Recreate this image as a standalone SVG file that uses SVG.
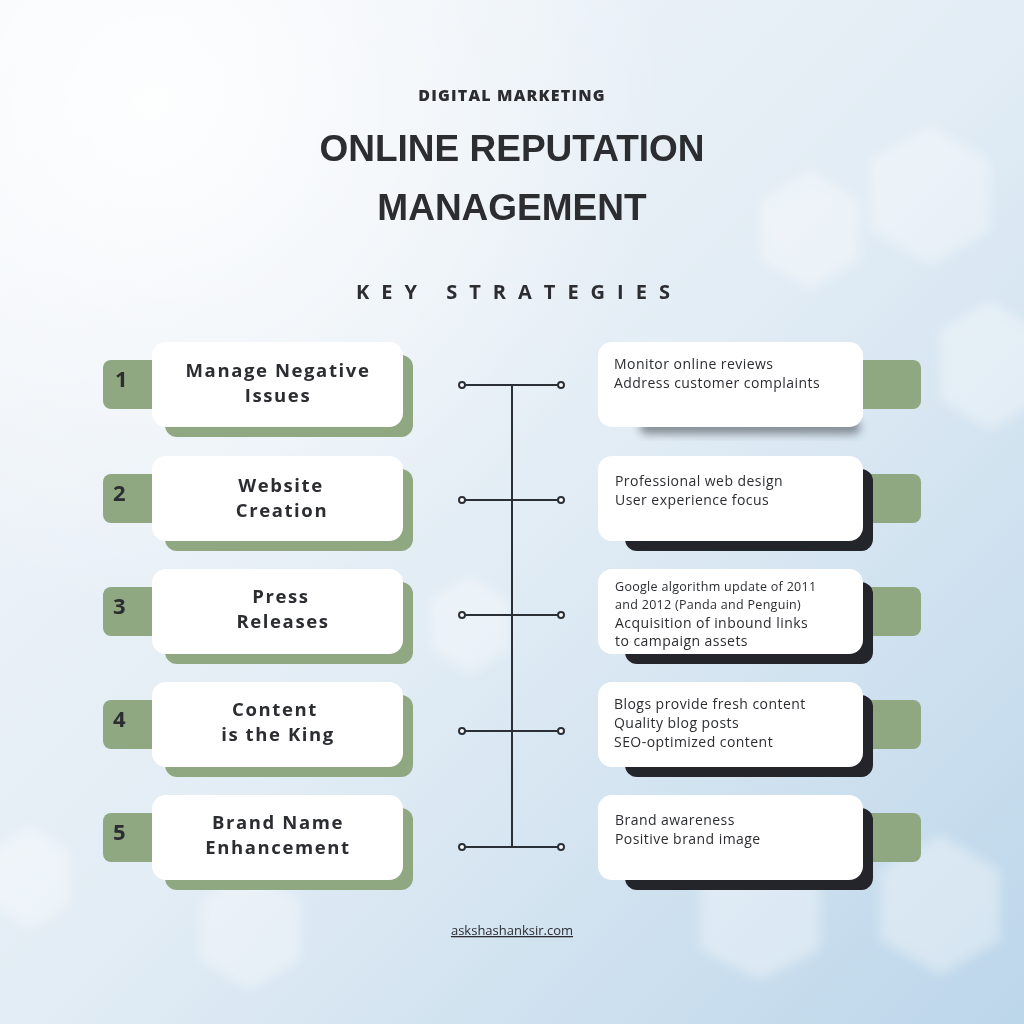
<svg xmlns="http://www.w3.org/2000/svg" width="1024" height="1024" viewBox="0 0 1024 1024">
<defs>
<linearGradient id="bg" x1="0" y1="0" x2="1" y2="1">
<stop offset="0" stop-color="#f3f6fa"/>
<stop offset="0.5" stop-color="#e3edf5"/>
<stop offset="1" stop-color="#bcd6ea"/>
</linearGradient>
<radialGradient id="glow" cx="0.15" cy="0.1" r="0.5">
<stop offset="0" stop-color="#ffffff" stop-opacity="0.9"/>
<stop offset="1" stop-color="#ffffff" stop-opacity="0"/>
</radialGradient>
<filter id="blur" x="-20%" y="-20%" width="140%" height="140%"><feGaussianBlur stdDeviation="6"/></filter>
<filter id="sblur" x="-10%" y="-50%" width="120%" height="200%"><feGaussianBlur stdDeviation="4"/></filter>
<style>
.tab{fill:#8fa882}
.gsh{fill:#8fa882}
.dsh{fill:#23252a}
.card{fill:#ffffff}
.num{font-family:"Open Sans","Inter",sans-serif;font-weight:700;font-size:22px;fill:#2b2d31}
.lbl{font-family:"Open Sans","Inter",sans-serif;font-weight:700;font-size:18.5px;fill:#2b2d31;text-anchor:middle;letter-spacing:1.6px}
.det{font-family:"Open Sans","Inter",sans-serif;font-size:14px;fill:#2b2d31;letter-spacing:0.45px}
.det.sm{font-size:12.5px;letter-spacing:0.3px}
.conn line{stroke:#2b2f36;stroke-width:2}
.conn circle{fill:#ffffff;stroke:#2b2f36;stroke-width:2}
.hex{fill:#ffffff;opacity:0.35}
</style>
</defs>
<rect width="1024" height="1024" fill="url(#bg)"/>
<rect width="1024" height="1024" fill="url(#glow)"/>
<g filter="url(#blur)">
<polygon class="hex" points="870,160 930,125 990,160 990,230 930,265 870,230"/>
<polygon class="hex" points="760,200 810,170 860,200 860,260 810,290 760,260"/>
<polygon class="hex" points="940,330 990,300 1040,330 1040,400 990,430 940,400"/>
<polygon class="hex" points="-10,850 30,825 70,850 70,905 30,930 -10,905"/>
<polygon class="hex" points="880,870 940,835 1000,870 1000,940 940,975 880,940"/>
<polygon class="hex" points="430,600 470,575 510,600 510,650 470,675 430,650"/>
<polygon class="hex" points="700,880 760,850 820,880 820,950 760,980 700,950"/>
<polygon class="hex" points="200,900 250,870 300,900 300,960 250,990 200,960"/>
</g>
<text x="512" y="101" text-anchor="middle" font-family="'Open Sans','Inter',sans-serif" font-weight="800" font-size="16" letter-spacing="1.2" fill="#2b2d31">DIGITAL MARKETING</text>
<text x="512" y="161" text-anchor="middle" font-family="'Liberation Sans',Arial,sans-serif" font-weight="700" font-size="37" fill="#2b2d31">ONLINE REPUTATION</text>
<text x="512" y="220" text-anchor="middle" font-family="'Liberation Sans',Arial,sans-serif" font-weight="700" font-size="37" fill="#2b2d31">MANAGEMENT</text>
<text x="519" y="299" text-anchor="middle" font-family="'Open Sans','Inter',sans-serif" font-weight="700" font-size="20" letter-spacing="12" fill="#2b2d31">KEY STRATEGIES</text>

<g class="conn" id="connectors">
<line x1="512" y1="385" x2="512" y2="847"/>
<line x1="462" y1="385" x2="561" y2="385"/>
<line x1="462" y1="500" x2="561" y2="500"/>
<line x1="462" y1="615" x2="561" y2="615"/>
<line x1="462" y1="731" x2="561" y2="731"/>
<line x1="462" y1="847" x2="561" y2="847"/>
<circle cx="462" cy="385" r="3"/><circle cx="561" cy="385" r="3"/>
<circle cx="462" cy="500" r="3"/><circle cx="561" cy="500" r="3"/>
<circle cx="462" cy="615" r="3"/><circle cx="561" cy="615" r="3"/>
<circle cx="462" cy="731" r="3"/><circle cx="561" cy="731" r="3"/>
<circle cx="462" cy="847" r="3"/><circle cx="561" cy="847" r="3"/>
</g>

<g id="node-1">
<rect class="tab" x="103" y="360" width="62" height="49" rx="8"/>
<rect class="gsh" x="165" y="355" width="248" height="82" rx="12"/>
<rect class="card" x="152" y="342" width="251" height="85" rx="14"/>
<text class="num" x="115" y="387">1</text>
<text class="lbl" x="278" y="377">Manage Negative</text>
<text class="lbl" x="278" y="402">Issues</text>
</g>
<g id="node-2">
<rect class="tab" x="103" y="474" width="62" height="49" rx="8"/>
<rect class="gsh" x="165" y="469" width="248" height="82" rx="12"/>
<rect class="card" x="152" y="456" width="251" height="85" rx="14"/>
<text class="num" x="113" y="501">2</text>
<text class="lbl" x="281" y="492">Website</text>
<text class="lbl" x="282" y="517">Creation</text>
</g>
<g id="node-3">
<rect class="tab" x="103" y="587" width="62" height="49" rx="8"/>
<rect class="gsh" x="165" y="582" width="248" height="82" rx="12"/>
<rect class="card" x="152" y="569" width="251" height="85" rx="14"/>
<text class="num" x="113" y="614">3</text>
<text class="lbl" x="281" y="603">Press</text>
<text class="lbl" x="283" y="628">Releases</text>
</g>
<g id="node-4">
<rect class="tab" x="103" y="700" width="62" height="49" rx="8"/>
<rect class="gsh" x="165" y="695" width="248" height="82" rx="12"/>
<rect class="card" x="152" y="682" width="251" height="85" rx="14"/>
<text class="num" x="113" y="727">4</text>
<text class="lbl" x="275" y="716">Content</text>
<text class="lbl" x="278" y="741">is the King</text>
</g>
<g id="node-5">
<rect class="tab" x="103" y="813" width="62" height="49" rx="8"/>
<rect class="gsh" x="165" y="808" width="248" height="82" rx="12"/>
<rect class="card" x="152" y="795" width="251" height="85" rx="14"/>
<text class="num" x="113" y="840">5</text>
<text class="lbl" x="278" y="829">Brand Name</text>
<text class="lbl" x="278" y="854">Enhancement</text>
</g>

<g id="detail-1">
<rect class="tab" x="850" y="360" width="71" height="49" rx="8"/>
<rect x="640" y="420" width="220" height="14" rx="6" fill="#3a3d44" opacity="0.55" filter="url(#sblur)"/>
<rect class="card" x="598" y="342" width="265" height="85" rx="14"/>
<text class="det" x="614" y="369">Monitor online reviews</text>
<text class="det" x="614" y="388">Address customer complaints</text>
</g>
<g id="detail-2">
<rect class="tab" x="850" y="474" width="71" height="49" rx="8"/>
<rect class="dsh" x="625" y="469" width="248" height="82" rx="12"/>
<rect class="card" x="598" y="456" width="265" height="85" rx="14"/>
<text class="det" x="615" y="486">Professional web design</text>
<text class="det" x="615" y="505">User experience focus</text>
</g>
<g id="detail-3">
<rect class="tab" x="850" y="587" width="71" height="49" rx="8"/>
<rect class="dsh" x="625" y="582" width="248" height="82" rx="12"/>
<rect class="card" x="598" y="569" width="265" height="85" rx="14"/>
<text class="det sm" x="615" y="591">Google algorithm update of 2011</text>
<text class="det sm" x="615" y="609">and 2012 (Panda and Penguin)</text>
<text class="det" x="615" y="628">Acquisition of inbound links</text>
<text class="det" x="615" y="646">to campaign assets</text>
</g>
<g id="detail-4">
<rect class="tab" x="850" y="700" width="71" height="49" rx="8"/>
<rect class="dsh" x="625" y="695" width="248" height="82" rx="12"/>
<rect class="card" x="598" y="682" width="265" height="85" rx="14"/>
<text class="det" x="614" y="709">Blogs provide fresh content</text>
<text class="det" x="614" y="728">Quality blog posts</text>
<text class="det" x="614" y="747">SEO-optimized content</text>
</g>
<g id="detail-5">
<rect class="tab" x="850" y="813" width="71" height="49" rx="8"/>
<rect class="dsh" x="625" y="808" width="248" height="82" rx="12"/>
<rect class="card" x="598" y="795" width="265" height="85" rx="14"/>
<text class="det" x="615" y="825">Brand awareness</text>
<text class="det" x="615" y="844">Positive brand image</text>
</g>

<text x="512" y="935" text-anchor="middle" font-family="'Open Sans','Inter',sans-serif" font-size="13" fill="#2b2d31" text-decoration="underline">askshashanksir.com</text>
</svg>
